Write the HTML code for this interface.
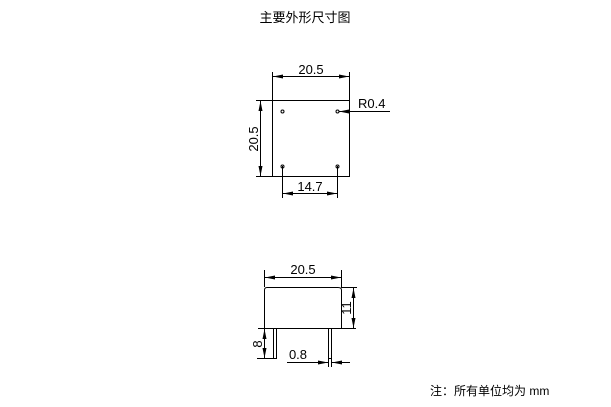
<!DOCTYPE html>
<html><head><meta charset="utf-8"><style>
html,body{margin:0;padding:0;background:#fff;width:611px;height:407px;overflow:hidden}
svg{display:block}
text{font-family:"Liberation Sans","Noto Sans CJK SC",sans-serif;fill:#000}
</style></head><body>
<svg width="611" height="407" viewBox="0 0 611 407">
<defs>
<marker id="a" viewBox="0 0 10 4" refX="10" refY="2" markerWidth="10" markerHeight="4" orient="auto-start-reverse" markerUnits="userSpaceOnUse"><path d="M0,0L10,2L0,4z" fill="#000"/></marker>
</defs>
<text x="305" y="22" font-size="13" text-anchor="middle">主要外形尺寸图</text>
<g stroke="#000" stroke-width="1" fill="none">
<rect x="272.5" y="100.5" width="77" height="76"/>
<line x1="272.5" y1="72" x2="272.5" y2="100"/>
<line x1="349.5" y1="72" x2="349.5" y2="100"/>
<line x1="273" y1="76.5" x2="349" y2="76.5" marker-start="url(#a)" marker-end="url(#a)"/>
<line x1="256" y1="100.5" x2="272" y2="100.5"/>
<line x1="256" y1="176.5" x2="272" y2="176.5"/>
<line x1="260.5" y1="101" x2="260.5" y2="176" marker-start="url(#a)" marker-end="url(#a)"/>
<line x1="282.5" y1="166" x2="282.5" y2="198"/>
<line x1="337.5" y1="166" x2="337.5" y2="198"/>
<line x1="283" y1="193.5" x2="337" y2="193.5" marker-start="url(#a)" marker-end="url(#a)"/>
<line x1="390" y1="111.5" x2="339" y2="111.5" marker-end="url(#a)"/>
<path d="M264.5,328 V290 Q264.5,287.5 267,287.5 H338 Q341.5,287.5 341.5,290 V328"/>
<line x1="258" y1="328.5" x2="356" y2="328.5"/>
<line x1="264.5" y1="270" x2="264.5" y2="287"/>
<line x1="341.5" y1="270" x2="341.5" y2="287"/>
<line x1="265" y1="277.5" x2="341" y2="277.5" marker-start="url(#a)" marker-end="url(#a)"/>
<line x1="341" y1="287.5" x2="357" y2="287.5"/>
<line x1="353.5" y1="288" x2="353.5" y2="328" marker-start="url(#a)" marker-end="url(#a)"/>
<rect x="273.5" y="328.5" width="3" height="30"/>
<rect x="328.5" y="328.5" width="3" height="30"/>
<line x1="257" y1="358.5" x2="273" y2="358.5"/>
<line x1="264.5" y1="329" x2="264.5" y2="358" marker-start="url(#a)" marker-end="url(#a)"/>
<line x1="328.5" y1="358" x2="328.5" y2="367"/>
<line x1="331.5" y1="358" x2="331.5" y2="367"/>
<line x1="287" y1="362.5" x2="328" y2="362.5" marker-end="url(#a)"/>
<line x1="350" y1="362.5" x2="332" y2="362.5" marker-end="url(#a)"/>
</g>
<g fill="none" stroke="#000"><circle cx="282.5" cy="111.5" r="1.5"/><circle cx="337.5" cy="111.5" r="1.5"/><circle cx="282.5" cy="166.5" r="1.5"/><circle cx="337.5" cy="166.5" r="1.5"/></g>
<g font-size="13">
<text x="311" y="74" text-anchor="middle">20.5</text>
<text x="258" y="139" text-anchor="middle" transform="rotate(-90 258 139)">20.5</text>
<text x="310" y="191" text-anchor="middle">14.7</text>
<text x="358" y="108">R0.4</text>
<text x="303" y="274" text-anchor="middle">20.5</text>
<text x="351" y="308" text-anchor="middle" transform="rotate(-90 351 308)">11</text>
<text x="262" y="344" text-anchor="middle" transform="rotate(-90 262 344)">8</text>
<text x="298" y="359" text-anchor="middle">0.8</text>
</g>
<text x="430" y="395" font-size="12">注：所有单位均为 mm</text>
</svg>
</body></html>
